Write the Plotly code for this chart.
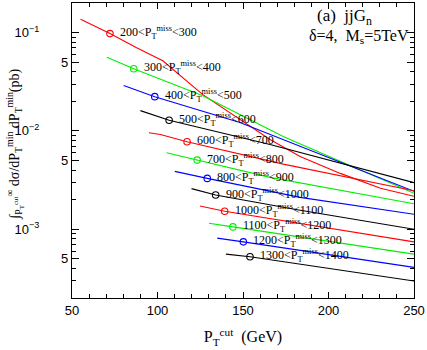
import math
import plotly.graph_objects as go

# P_T^miss bins (GeV)
LOWER = [200, 300, 400, 500, 600, 700, 800, 900, 1000, 1100, 1200, 1300]
UPPER = [300, 400, 500, 600, 700, 800, 900, 1000, 1100, 1200, 1300, 1400]
COLORS = ["#ff0000", "#00ee00", "#0000ff", "#000000"] * 3

# integrated cross section (pb) vs P_T^cut (GeV), one curve per bin
X_200 = [55.0, 72.2, 87.8, 103.1, 126.5, 148.2, 165.8, 183.4, 206.9, 230.4, 250.0]
Y_200 = [0.1367, 0.0977, 0.0700, 0.0517, 0.02338, 0.01305, 0.00818, 0.00550, 0.00370, 0.00261, 0.002165]
X_300 = [70.4, 86.1, 126.5, 173.5, 250.0]
Y_300 = [0.0563, 0.0429, 0.02284, 0.00878, 0.00232]
X_400 = [80.2, 98.4, 148.2, 250.0]
Y_400 = [0.0290, 0.02231, 0.01216, 0.00243]
X_500 = [90.0, 106.8, 165.8, 250.0]
Y_500 = [0.01609, 0.01284, 0.00728, 0.00298]
X_600 = [95.0, 101.7, 117.3, 173.5, 250.0]
Y_600 = [0.00957, 0.00919, 0.00776, 0.00460, 0.00246]
X_700 = [105.3, 123.2, 165.8, 250.0]
Y_700 = [0.00600, 0.00505, 0.00337, 0.00182]
X_800 = [110.1, 129.1, 183.4, 250.0]
Y_800 = [0.00388, 0.00329, 0.00211, 0.00142]
X_900 = [119.9, 134.0, 183.4, 250.0]
Y_900 = [0.00259, 0.00223, 0.00156, 0.00100]
X_1000 = [124.8, 139.3, 250.0]
Y_1000 = [0.001726, 0.001525, 0.000745]
X_1100 = [130.1, 144.1, 250.0]
Y_1100 = [0.001153, 0.001057, 0.000559]
X_1200 = [134.9, 150.2, 250.0]
Y_1200 = [0.000812, 0.000745, 0.000410]
X_1300 = [140.0, 154.1, 250.0]
Y_1300 = [0.000559, 0.000525, 0.000298]

# open-circle markers next to each label
MARK_X = [72.2, 86.1, 98.4, 106.8, 117.3, 123.2, 129.1, 134.0, 139.3, 144.1, 150.2, 154.1]
MARK_Y = [0.0977, 0.0429, 0.02231, 0.01284, 0.00776, 0.00505, 0.00329, 0.00223,
          0.001525, 0.001057, 0.000745, 0.000525]

CURVES_X = [X_200, X_300, X_400, X_500, X_600, X_700, X_800, X_900, X_1000, X_1100, X_1200, X_1300]
CURVES_Y = [Y_200, Y_300, Y_400, Y_500, Y_600, Y_700, Y_800, Y_900, Y_1000, Y_1100, Y_1200, Y_1300]

SERIF = "Liberation Serif, Times New Roman, serif"
SANS = "Liberation Sans, Arial, sans-serif"

fig = go.Figure()
for xs, ys, c in zip(CURVES_X, CURVES_Y, COLORS):
    fig.add_trace(go.Scatter(x=xs, y=ys, mode="lines", line=dict(color=c, width=1.1),
                             showlegend=False, hoverinfo="skip"))
for mx, my, c in zip(MARK_X, MARK_Y, COLORS):
    fig.add_trace(go.Scatter(x=[mx], y=[my], mode="markers", showlegend=False,
                             marker=dict(symbol="circle-open", size=6.5, color=c, line=dict(width=1.1))))

# log axis: annotation y is given in log10 units
for lo, hi, mx, my in zip(LOWER, UPPER, MARK_X, MARK_Y):
    fig.add_annotation(x=mx, y=math.log10(my), yref="y", xref="x", showarrow=False,
                       text=f"{lo}&lt;P<sub>T</sub><sup>miss</sup>&lt;{hi}",
                       xanchor="left", yanchor="middle", xshift=8, yshift=1,
                       font=dict(family=SERIF, size=12, color="black"))

fig.add_annotation(x=1, y=1, xref="paper", yref="paper", xanchor="right", yanchor="top",
                   xshift=-40, yshift=-1, showarrow=False, text="(a)  jjG<sub>n</sub>",
                   font=dict(family=SERIF, size=17, color="black"))
fig.add_annotation(x=1, y=1, xref="paper", yref="paper", xanchor="right", yanchor="top",
                   xshift=-3, yshift=-22, showarrow=False, text="δ=4,  M<sub>s</sub>=5TeV",
                   font=dict(family=SERIF, size=16, color="black"))
fig.add_annotation(x=0, y=0.5, xref="paper", yref="paper", xanchor="center", yanchor="middle",
                   xshift=-57, yshift=6, showarrow=False, textangle=-90,
                   text="∫<sub>P<sub>T</sub><sup>cut</sup></sub><sup>∞</sup> dσ/dP<sub>T</sub><sup>min</sup> dP<sub>T</sub><sup>min</sup>(pb)",
                   font=dict(family=SERIF, size=14, color="black"))

y_major = [1e-1, 5e-2, 1e-2, 5e-3, 1e-3, 5e-4]
pad = "\u00a0" * 8
y_text = ["10<sup>−1</sup>" + pad, "5", "10<sup>−2</sup>" + pad, "5", "10<sup>−3</sup>" + pad, "5"]
y_minor = [m * 10.0 ** e for e in (-4, -3, -2, -1) for m in (2, 3, 4, 6, 7, 8, 9)]

axis_common = dict(showline=True, linecolor="black", linewidth=1.2, mirror="allticks",
                   ticks="inside", tickcolor="black", showgrid=False, zeroline=False,
                   automargin=False, ticklabeloverflow="allow",
                   tickfont=dict(family=SANS, size=13, color="black"))

fig.update_xaxes(range=[50, 250], tickvals=[50, 100, 150, 200, 250], ticklen=6,
                 minor=dict(dtick=10, ticks="inside", ticklen=3.5, tickcolor="black", showgrid=False),
                 title=dict(text="P<sub>T</sub><sup>cut</sup>  (GeV)",
                            font=dict(family=SERIF, size=16, color="black"), standoff=14),
                 **axis_common)
fig.update_yaxes(type="log", range=[-3.699, -0.699], tickvals=y_major, ticktext=y_text, ticklen=7,
                 minor=dict(tickvals=y_minor, ticks="inside", ticklen=4, tickcolor="black", showgrid=False),
                 **axis_common)

fig.update_layout(width=427, height=350, margin=dict(l=72, r=13, t=3, b=52),
                  plot_bgcolor="white", paper_bgcolor="white", showlegend=False)

# drop the browser's default 8px page margin so the figure fills the window
fig.write_html("out.html", config={"displayModeBar": False},
               post_script="document.body.style.margin='0';")
